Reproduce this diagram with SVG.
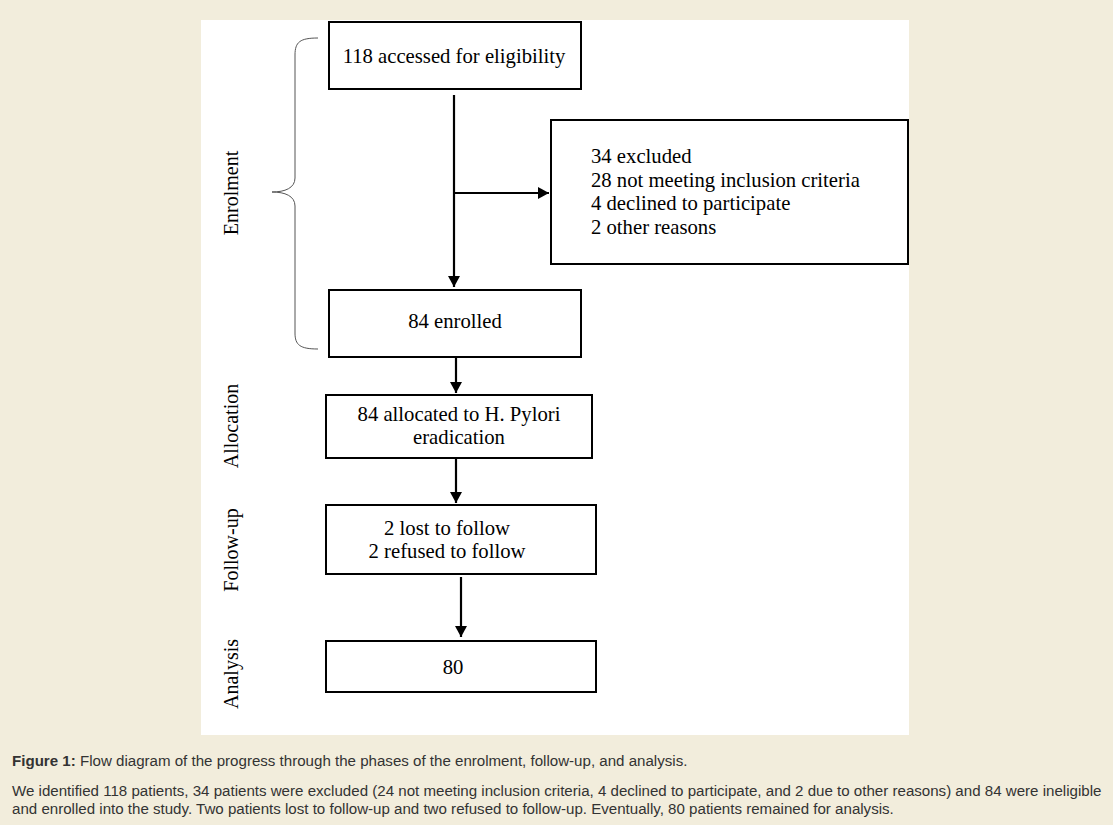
<svg xmlns="http://www.w3.org/2000/svg" width="1113" height="825" viewBox="0 0 1113 825">
<style>
.box{fill:#fff;stroke:#000;stroke-width:2}
.t{font-family:"Liberation Serif","Times New Roman",serif;font-size:20.7px;fill:#000}
.c{text-anchor:middle}
.lab{font-family:"Liberation Serif","Times New Roman",serif;font-size:20px;fill:#000;text-anchor:middle}
.cap{font-family:"Liberation Sans",Arial,sans-serif;font-size:15.1px;fill:#333}
.ln{stroke:#000;stroke-width:2.2;fill:none}
</style>
<defs>
<marker id="ah" markerWidth="12" markerHeight="12" refX="11" refY="6" orient="auto" markerUnits="userSpaceOnUse">
<path d="M0,0 L11,6 L0,12 z" fill="#000"/>
</marker>
</defs>
<rect x="0" y="0" width="1113" height="825" fill="#f2eddc"/>
<rect x="201" y="20" width="708" height="715" fill="#fff"/>

<g id="brace">
<path d="M318,38 C300,38 295,42 295,55 L295,178 C295,188 285,192 272,192 C285,192 295,196 295,206 L295,333 C295,345 300,349 318,349" fill="none" stroke="#555" stroke-width="1"/>
</g>

<g id="phase-labels">
<text class="lab" transform="translate(238,193) rotate(-90)">Enrolment</text>
<text class="lab" transform="translate(238,426) rotate(-90)">Allocation</text>
<text class="lab" transform="translate(238,550) rotate(-90)">Follow-up</text>
<text class="lab" transform="translate(238,674) rotate(-90)">Analysis</text>
</g>

<g id="connectors">
<line class="ln" x1="454" y1="95" x2="454" y2="287" marker-end="url(#ah)"/>
<line class="ln" x1="454" y1="193" x2="549" y2="193" marker-end="url(#ah)"/>
<line class="ln" x1="456" y1="357" x2="456" y2="393" marker-end="url(#ah)"/>
<line class="ln" x1="456" y1="458" x2="456" y2="503" marker-end="url(#ah)"/>
<line class="ln" x1="461" y1="577" x2="461" y2="637" marker-end="url(#ah)"/>
</g>

<g id="node-assessed">
<rect class="box" x="329" y="22" width="252" height="67"/>
<text class="t c" x="454" y="63">118 accessed for eligibility</text>
</g>

<g id="node-excluded">
<rect class="box" x="551" y="120" width="357" height="144"/>
<text class="t" x="591" y="163">34 excluded</text>
<text class="t" x="591" y="187">28 not meeting inclusion criteria</text>
<text class="t" x="591" y="210">4 declined to participate</text>
<text class="t" x="591" y="234">2 other reasons</text>
</g>

<g id="node-enrolled">
<rect class="box" x="329" y="290" width="252" height="67"/>
<text class="t c" x="455" y="328">84 enrolled</text>
</g>

<g id="node-allocated">
<rect class="box" x="326" y="395" width="266" height="63"/>
<text class="t c" x="459" y="421">84 allocated to H. Pylori</text>
<text class="t c" x="459" y="444">eradication</text>
</g>

<g id="node-followup">
<rect class="box" x="326" y="505" width="270" height="69"/>
<text class="t c" x="447" y="535">2 lost to follow</text>
<text class="t c" x="447" y="558">2 refused to follow</text>
</g>

<g id="node-analysis">
<rect class="box" x="326" y="641" width="270" height="51"/>
<text class="t c" x="453" y="674">80</text>
</g>

<g id="caption">
<text class="cap" x="12" y="766"><tspan font-weight="bold">Figure 1:</tspan> Flow diagram of the progress through the phases of the enrolment, follow-up, and analysis.</text>
<text class="cap" x="12" y="796">We identified 118 patients, 34 patients were excluded (24 not meeting inclusion criteria, 4 declined to participate, and 2 due to other reasons) and 84 were ineligible</text>
<text class="cap" x="12" y="814">and enrolled into the study. Two patients lost to follow-up and two refused to follow-up. Eventually, 80 patients remained for analysis.</text>
</g>
</svg>
